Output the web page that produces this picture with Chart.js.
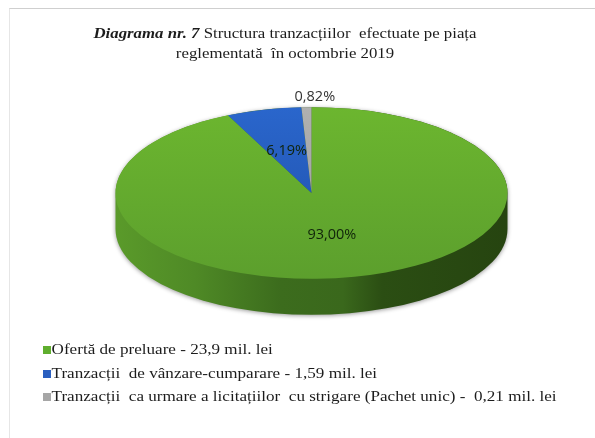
<!DOCTYPE html>
<html lang="ro">
<head>
<meta charset="utf-8">
<title>Diagrama nr. 7</title>
<script src="https://cdn.jsdelivr.net/npm/chart.js@4"></script>
<style>
    html, body { margin: 0; padding: 0; background: #fff; }
    body { width: 595px; height: 438px; position: relative; overflow: hidden; font-family: "Liberation Serif", serif; color: #1c1c1c; }
    #cadre { position: absolute; left: 9px; top: 8px; width: 600px; height: 450px; border-top: 1px solid #cfcfcf; border-left: 1px solid #e6e6e6; }
    #monGraphique { position: absolute; left: 0; top: 0; }
    #titre { position: absolute; left: 60px; top: 23px; width: 450px; text-align: center; font-size: 15px; line-height: 20px; white-space: nowrap; transform: scaleX(1.12); }
    #legende { position: absolute; left: 43px; top: 339px; font-size: 15px; transform: scaleX(1.14); transform-origin: left top; }
    #legende div { height: 23.5px; line-height: 20px; white-space: pre; }
    #legende i { display: inline-block; width: 6.5px; height: 8px; margin-right: 1px; }
</style>
</head>
<body>
<div id="cadre"></div>
<canvas id="monGraphique" width="595" height="438"></canvas>
<div id="titre"><b><i>Diagrama nr. 7</i></b> Structura tranzacțiilor&nbsp; efectuate pe piața<br>reglementată&nbsp; în octombrie 2019</div>
<div id="legende"></div>
<script>
// Les données du graphique
const categories = [
    'Ofertă de preluare - 23,9 mil. lei',
    'Tranzacții  de vânzare-cumparare - 1,59 mil. lei',
    'Tranzacții  ca urmare a licitațiilor  cu strigare (Pachet unic) -  0,21 mil. lei'
];
const valeurs = [93.00, 6.19, 0.82];
const etiquettes = ['93,00%', '6,19%', '0,82%'];
const couleursHaut = ['#6cb62f', '#2a66cc', '#b0b0b0'];
const couleursBas = ['#5c9f2d', '#1f4fa8', '#9a9a9a'];
const couleursLegende = ['#5fae2e', '#2a5fc0', '#a6a6a6'];

// Perspective du camembert
const ecrasement = 0.438;
const centreY = 193;
const epaisseur = 36;

function ecraser(ctx, pie) {
    ctx.translate(0, centreY);
    ctx.scale(1, ecrasement);
    ctx.translate(0, -pie.y);
}

// Plugin : le bord 3D sous le camembert et la mise à plat de la part dessinée
const perspective = {
    id: 'perspective',
    beforeDatasetsDraw(chart) {
        const ctx = chart.ctx;
        const pie = chart.getDatasetMeta(0).data[0];
        const rx = pie.outerRadius;
        const ry = rx * ecrasement;
        const grad = ctx.createLinearGradient(pie.x - rx, 0, pie.x + rx, 0);
        grad.addColorStop(0, '#5a9a2a');
        grad.addColorStop(0.2, '#4f8a26');
        grad.addColorStop(0.42, '#3c6c1d');
        grad.addColorStop(0.58, '#3a681c');
        grad.addColorStop(0.68, '#2b4e13');
        grad.addColorStop(1, '#264410');
        ctx.save();
        ctx.shadowColor = 'rgba(0,0,0,0.4)';
        ctx.shadowBlur = 4;
        ctx.shadowOffsetY = 1;
        ctx.fillStyle = grad;
        ctx.beginPath();
        ctx.ellipse(pie.x, centreY, rx, ry, 0, Math.PI, 0, false);
        ctx.lineTo(pie.x + rx, centreY + epaisseur);
        ctx.ellipse(pie.x, centreY + epaisseur, rx, ry, 0, 0, Math.PI, false);
        ctx.closePath();
        ctx.fill();
        ctx.restore();

        ctx.save();
        ecraser(ctx, pie);
    },
    afterDatasetsDraw(chart) {
        const ctx = chart.ctx;
        ctx.restore();

        // Les pourcentages
        const meta = chart.getDatasetMeta(0);
        ctx.save();
        ctx.font = '14.5px "Open Sans", "DejaVu Sans", sans-serif';
        ctx.textAlign = 'center';
        ctx.textBaseline = 'middle';
        meta.data.forEach((arc, i) => {
            const milieu = (arc.startAngle + arc.endAngle) / 2;
            // la toute petite part a son étiquette dehors, en haut
            const dehors = i === 2;
            const r = dehors ? arc.outerRadius * 1.12 : arc.outerRadius / 2;
            const x = arc.x + Math.cos(milieu) * r + (dehors ? 9 : -1);
            const y = centreY + Math.sin(milieu) * r * ecrasement;
            ctx.fillStyle = dehors ? '#333' : '#10240a';
            ctx.fillText(etiquettes[i], x, y);
        });
        ctx.restore();
    }
};

// La légende à la main (liste verticale, alignée à gauche)
const legende = document.getElementById('legende');
categories.forEach((nom, i) => {
    const ligne = document.createElement('div');
    const carre = document.createElement('i');
    carre.style.background = couleursLegende[i];
    ligne.appendChild(carre);
    ligne.appendChild(document.createTextNode(nom));
    legende.appendChild(ligne);
});

const ctx = document.getElementById('monGraphique').getContext('2d');
new Chart(ctx, {
    type: 'pie',
    data: {
        labels: categories,
        datasets: [{
            data: valeurs,
            borderWidth: 0,
            backgroundColor: function(c) {
                const area = c.chart.chartArea;
                if (!area) return couleursHaut[c.dataIndex];
                const g = c.chart.ctx.createLinearGradient(0, area.top, 0, area.bottom);
                g.addColorStop(0, couleursHaut[c.dataIndex]);
                g.addColorStop(1, couleursBas[c.dataIndex]);
                return g;
            }
        }]
    },
    options: {
        responsive: false,
        animation: false,
        radius: 196,
        layout: { padding: { left: 115, right: 87, top: 22, bottom: 22 } },
        plugins: { legend: { display: false }, tooltip: { enabled: false } }
    },
    plugins: [perspective]
});
</script>
</body>
</html>
